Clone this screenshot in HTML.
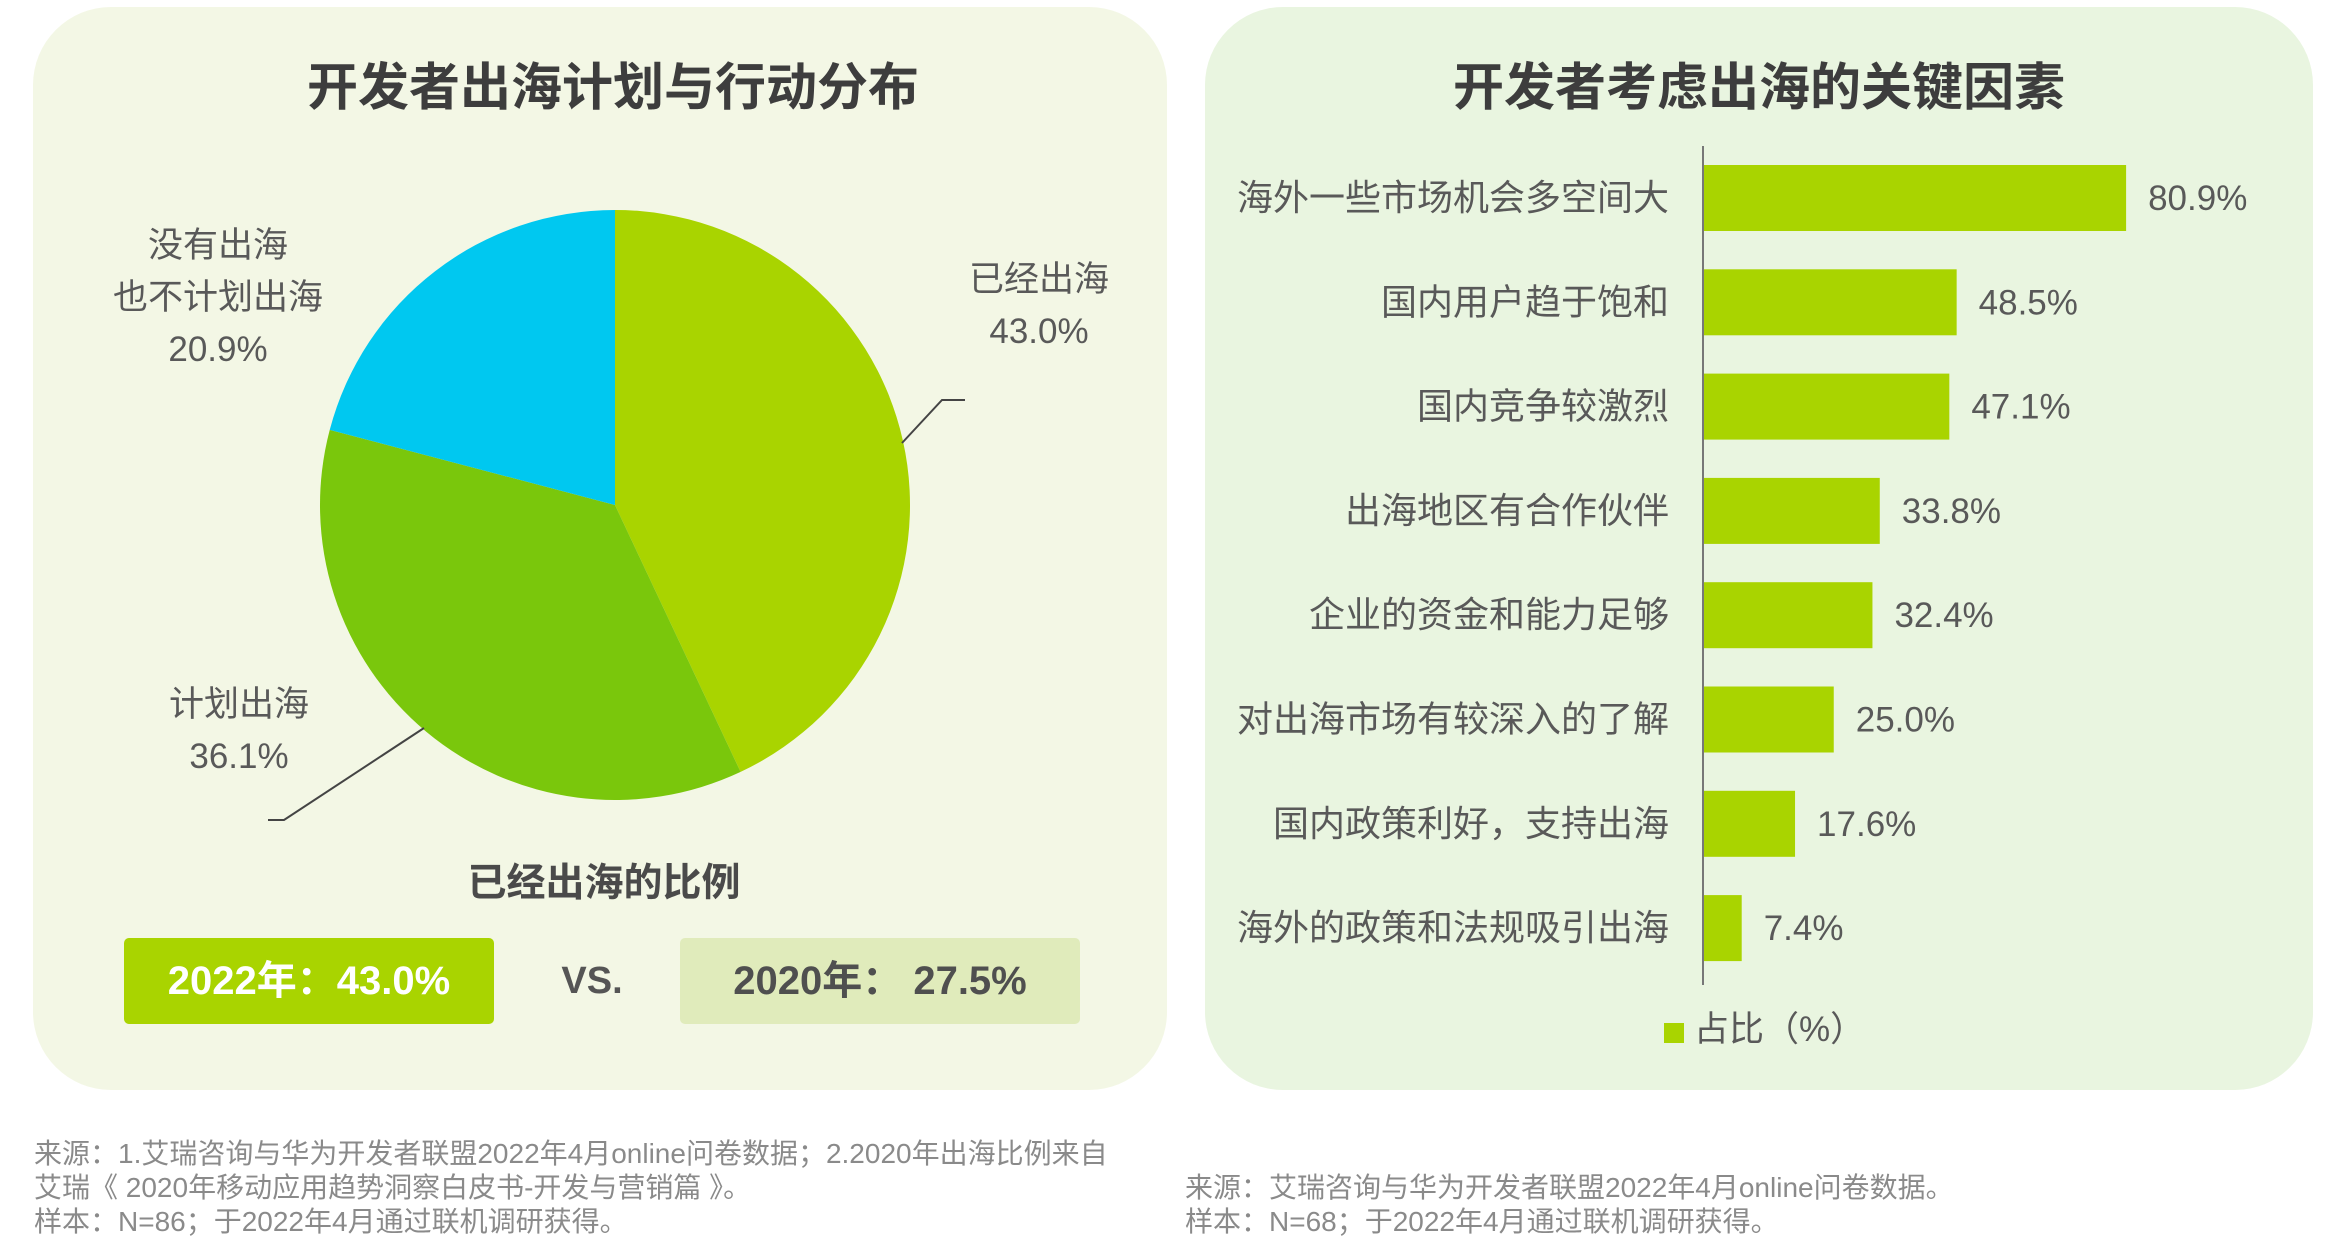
<!DOCTYPE html>
<html><head><meta charset="utf-8">
<style>
body{margin:0;width:2326px;height:1232px;background:#fff;position:relative;overflow:hidden;font-family:"Liberation Sans","Noto Sans CJK SC",sans-serif;}
.abs{position:absolute;}
.panel{position:absolute;border-radius:78px;}
.title{position:absolute;font-size:51px;font-weight:bold;color:#3d3d3d;text-align:center;white-space:nowrap;}
.lbl{position:absolute;font-size:35px;color:#595959;text-align:center;white-space:nowrap;transform:translateX(-50%);line-height:52px;}
.foot{position:absolute;font-size:28px;color:#8a8a8a;line-height:34px;white-space:nowrap;}
</style></head><body>
<div class="panel" style="left:33px;top:7px;width:1134px;height:1083px;background:#f3f7e5;"></div>
<div class="panel" style="left:1205px;top:7px;width:1108px;height:1083px;background:#e9f5e0;"></div>
<div class="title" style="left:33px;width:1160px;top:46px;">开发者出海计划与行动分布</div>
<div class="title" style="left:1205px;width:1108px;top:46px;">开发者考虑出海的关键因素</div>

<svg id="pie" class="abs" style="left:0;top:0" width="1167" height="1090"></svg>

<div class="lbl" style="left:1039px;top:254px;">已经出海<br>43.0%</div>
<div class="lbl" style="left:218px;top:220px;">没有出海<br>也不计划出海<br>20.9%</div>
<div class="lbl" style="left:239px;top:679px;">计划出海<br>36.1%</div>

<div class="abs" style="left:404px;width:400px;top:852px;text-align:center;font-size:39px;font-weight:bold;color:#4a4a4a;">已经出海的比例</div>
<div class="abs" style="left:124px;top:938px;width:370px;height:86px;background:#a9d400;border-radius:5px;color:#fff;font-size:40px;font-weight:bold;line-height:86px;text-align:center;">2022年：43.0%</div>
<div class="abs" style="left:552px;top:960px;width:80px;text-align:center;font-size:38px;font-weight:bold;color:#555;">VS.</div>
<div class="abs" style="left:680px;top:938px;width:400px;height:86px;background:#e0ebbb;border-radius:5px;color:#4f4f4f;font-size:40px;font-weight:bold;line-height:86px;text-align:center;">2020年： 27.5%</div>

<svg id="bar" class="abs" style="left:1205px;top:0" width="1108" height="1090"></svg>

<div class="abs" style="left:1664px;top:1023px;width:20px;height:20px;background:#a9d400;"></div>
<div class="abs" style="left:1694px;top:1001px;font-size:35px;color:#595959;">占比（%）</div>

<div class="foot" style="left:34px;top:1137px;">来源：1.艾瑞咨询与华为开发者联盟2022年4月online问卷数据；2.2020年出海比例来自<br>艾瑞《 2020年移动应用趋势洞察白皮书-开发与营销篇 》。<br>样本：N=86；于2022年4月通过联机调研获得。</div>
<div class="foot" style="left:1185px;top:1171px;">来源：艾瑞咨询与华为开发者联盟2022年4月online问卷数据。<br>样本：N=68；于2022年4月通过联机调研获得。</div>

<script>
const pieCategories=["已经出海","计划出海","没有出海也不计划出海"];
const pieValues=[43.0,36.1,20.9];
const pieColors=["#a9d400","#7ac70c","#00c8f0"];
const barCategories=["海外一些市场机会多空间大","国内用户趋于饱和","国内竞争较激烈","出海地区有合作伙伴","企业的资金和能力足够","对出海市场有较深入的了解","国内政策利好，支持出海","海外的政策和法规吸引出海"];
const barValues=[80.9,48.5,47.1,33.8,32.4,25.0,17.6,7.4];
const barLabels=["80.9%","48.5%","47.1%","33.8%","32.4%","25.0%","17.6%","7.4%"];
const NS="http://www.w3.org/2000/svg";
function mk(p,t,a){const e=document.createElementNS(NS,t);for(const k in a)e.setAttribute(k,a[k]);p.appendChild(e);return e;}
const pie=document.getElementById('pie');
const cx=615,cy=505,r=295;
const tot=pieValues.reduce((a,b)=>a+b,0);
let ang=0;
pieValues.forEach((v,i)=>{
  const a0=ang/tot*2*Math.PI, a1=(ang+v)/tot*2*Math.PI; ang+=v;
  const x0=cx+r*Math.sin(a0),y0=cy-r*Math.cos(a0),x1=cx+r*Math.sin(a1),y1=cy-r*Math.cos(a1);
  const large=(a1-a0)>Math.PI?1:0;
  const p=mk(pie,'path',{d:`M${cx},${cy} L${x0},${y0} A${r},${r} 0 ${large} 1 ${x1},${y1} Z`,fill:pieColors[i]});
  
  
});
const l1=mk(pie,'polyline',{points:"902,443 942,400 965,400",fill:"none",stroke:"#444","stroke-width":2});


const l2=mk(pie,'polyline',{points:"424,728 284,820 268,820",fill:"none",stroke:"#444","stroke-width":2});


const bar=document.getElementById('bar');
const x0=498, pxPer=5.23, top0=165, step=104.3, bh=66;
const xs=v=>x0+v*pxPer;
const ys=i=>top0+i*step;
const ax=mk(bar,'line',{x1:x0,y1:146,x2:x0,y2:985,stroke:"#777","stroke-width":2});


barValues.forEach((v,i)=>{
  const b=mk(bar,'rect',{x:x0+1,y:ys(i),width:xs(v)-x0-1,height:bh,fill:"#a9d400"});
  
  
  const t=mk(bar,'text',{x:xs(v)+22,y:ys(i)+bh/2+12,"font-size":35,fill:"#595959","font-family":"Liberation Sans, sans-serif"});
  t.textContent=barLabels[i];
  
  
  const c=mk(bar,'text',{x:x0-34,y:ys(i)+bh/2+12,"font-size":36,fill:"#595959","text-anchor":"end","font-family":"Liberation Sans, Noto Sans CJK SC, sans-serif"});
  c.textContent=barCategories[i];
  
  
});
</script>
</body></html>
